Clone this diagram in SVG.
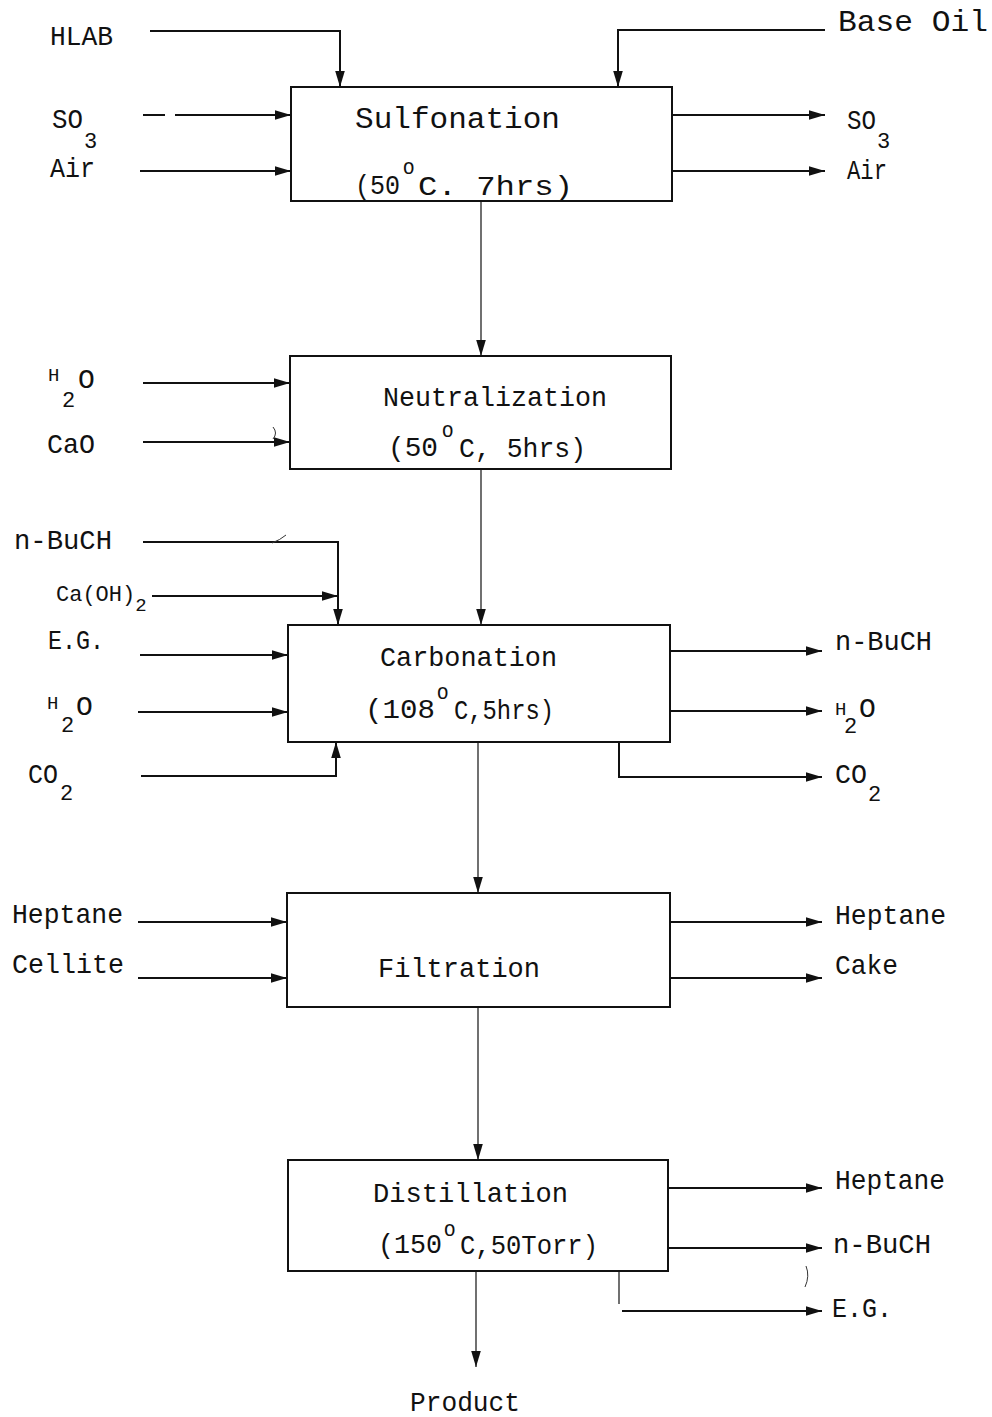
<svg xmlns="http://www.w3.org/2000/svg" width="992" height="1417" viewBox="0 0 992 1417">
  <defs>
    <marker id="arr" markerUnits="userSpaceOnUse" markerWidth="18" markerHeight="12" refX="16" refY="6" orient="auto">
      <path d="M0,1.2 L16,6 L0,10.8 z" fill="#111"/>
    </marker>
    <style>
      .box { fill: #fff; stroke: #111; stroke-width: 2; }
      .ln { fill: none; stroke: #111; stroke-width: 2; }
      .thin { fill: none; stroke: #111; stroke-width: 1.2; }
      text { font-family: "Liberation Mono", "DejaVu Sans Mono", monospace; fill: #111; }
      .t { font-size: 28px; }
      .big { font-size: 30px; }
      .mid { font-size: 22px; }
      .sup { font-size: 19px; }
      .sub { font-size: 22px; }
      .noise { fill: none; stroke: #333; stroke-width: 1; }
    </style>
  </defs>
  <rect width="992" height="1417" fill="#fff"/>

  <!-- process connectors -->
  <g id="connectors">
    <!-- sulfonation feeds and vents -->
    <path class="ln" d="M150,31 H340 V87" marker-end="url(#arr)"/>
    <path class="ln" d="M825,30 H618 V87" marker-end="url(#arr)"/>
    <path class="ln" d="M143,115 H165"/>
    <path class="ln" d="M175,115 H291" marker-end="url(#arr)"/>
    <path class="ln" d="M140,171 H291" marker-end="url(#arr)"/>
    <path class="ln" d="M672,115 H825" marker-end="url(#arr)"/>
    <path class="ln" d="M672,171 H825" marker-end="url(#arr)"/>
    <path class="thin" d="M481,201 V356" marker-end="url(#arr)"/>

    <!-- neutralization feeds -->
    <path class="ln" d="M143,383 H290" marker-end="url(#arr)"/>
    <path class="ln" d="M143,442 H290" marker-end="url(#arr)"/>
    <path class="thin" d="M481,469 V625" marker-end="url(#arr)"/>

    <!-- carbonation feeds and vents -->
    <path class="ln" d="M143,542 H338 V625" marker-end="url(#arr)"/>
    <path class="ln" d="M152,596 H338" marker-end="url(#arr)"/>
    <path class="ln" d="M140,655 H288" marker-end="url(#arr)"/>
    <path class="ln" d="M138,712 H288" marker-end="url(#arr)"/>
    <path class="ln" d="M141,776 H336 V742" marker-end="url(#arr)"/>
    <path class="ln" d="M670,651 H822" marker-end="url(#arr)"/>
    <path class="ln" d="M670,711 H822" marker-end="url(#arr)"/>
    <path class="ln" d="M619,742 V777 H822" marker-end="url(#arr)"/>
    <path class="thin" d="M478,742 V893" marker-end="url(#arr)"/>

    <!-- filtration feeds and outputs -->
    <path class="ln" d="M138,922 H287" marker-end="url(#arr)"/>
    <path class="ln" d="M138,978 H287" marker-end="url(#arr)"/>
    <path class="ln" d="M670,922 H822" marker-end="url(#arr)"/>
    <path class="ln" d="M670,978 H822" marker-end="url(#arr)"/>
    <path class="thin" d="M478,1007 V1160" marker-end="url(#arr)"/>

    <!-- distillation outputs -->
    <path class="ln" d="M668,1188 H822" marker-end="url(#arr)"/>
    <path class="ln" d="M668,1248 H822" marker-end="url(#arr)"/>
    <path class="thin" d="M619,1271 V1304"/>
    <path class="ln" d="M622,1311 H822" marker-end="url(#arr)"/>
    <path class="thin" d="M476,1271 V1367" marker-end="url(#arr)"/>
  </g>

  <!-- unit operations -->
  <g id="sulfonation">
    <rect class="box" x="291" y="87" width="381" height="114"/>
    <text class="big" x="355" y="128" textLength="205" lengthAdjust="spacingAndGlyphs">Sulfonation</text>
    <text class="t" x="355" y="194" textLength="45" lengthAdjust="spacingAndGlyphs">(50</text>
    <text class="sup" x="403" y="174">O</text>
    <text class="t" x="418" y="195" textLength="155" lengthAdjust="spacingAndGlyphs">C. 7hrs)</text>
  </g>

  <g id="neutralization">
    <rect class="box" x="290" y="356" width="381" height="113"/>
    <text class="t" x="383" y="406" textLength="224" lengthAdjust="spacingAndGlyphs">Neutralization</text>
    <text class="t" x="388" y="456" textLength="50" lengthAdjust="spacingAndGlyphs">(50</text>
    <text class="sup" x="442" y="437">O</text>
    <text class="t" x="459" y="457" textLength="127" lengthAdjust="spacingAndGlyphs">C, 5hrs)</text>
  </g>

  <g id="carbonation">
    <rect class="box" x="288" y="625" width="382" height="117"/>
    <text class="t" x="380" y="666" textLength="177" lengthAdjust="spacingAndGlyphs">Carbonation</text>
    <text class="t" x="365" y="718" textLength="70" lengthAdjust="spacingAndGlyphs">(108</text>
    <text class="sup" x="437" y="699">O</text>
    <text class="t" x="454" y="719" textLength="100" lengthAdjust="spacingAndGlyphs">C,5hrs)</text>
  </g>

  <g id="filtration">
    <rect class="box" x="287" y="893" width="383" height="114"/>
    <text class="t" x="378" y="977" textLength="162" lengthAdjust="spacingAndGlyphs">Filtration</text>
  </g>

  <g id="distillation">
    <rect class="box" x="288" y="1160" width="380" height="111"/>
    <text class="t" x="373" y="1202" textLength="195" lengthAdjust="spacingAndGlyphs">Distillation</text>
    <text class="t" x="378" y="1253" textLength="64" lengthAdjust="spacingAndGlyphs">(150</text>
    <text class="sup" x="444" y="1236">O</text>
    <text class="t" x="460" y="1254" textLength="138" lengthAdjust="spacingAndGlyphs">C,50Torr)</text>
  </g>

  <g id="product">
    <text class="t" x="410" y="1411" textLength="110" lengthAdjust="spacingAndGlyphs">Product</text>
  </g>

  <!-- stream labels -->
  <g id="streams">
    <text class="t" x="50" y="45" textLength="63" lengthAdjust="spacingAndGlyphs">HLAB</text>
    <text class="big" x="838" y="31" textLength="150" lengthAdjust="spacingAndGlyphs">Base Oil</text>

    <text class="t" x="52" y="128" textLength="31" lengthAdjust="spacingAndGlyphs">SO</text>
    <text class="sub" x="84" y="148">3</text>
    <text class="t" x="50" y="177" textLength="45" lengthAdjust="spacingAndGlyphs">Air</text>
    <text class="t" x="847" y="129" textLength="29" lengthAdjust="spacingAndGlyphs">SO</text>
    <text class="sub" x="877" y="148">3</text>
    <text class="t" x="847" y="179" textLength="40" lengthAdjust="spacingAndGlyphs">Air</text>

    <text class="sup" x="48" y="381">H</text>
    <text class="sub" x="62" y="407">2</text>
    <text class="t" x="78" y="388">O</text>
    <text class="t" x="47" y="453" textLength="48" lengthAdjust="spacingAndGlyphs">CaO</text>

    <text class="t" x="14" y="549" textLength="98" lengthAdjust="spacingAndGlyphs">n-BuCH</text>
    <text class="mid" x="56" y="601">Ca(OH)<tspan class="sup" dy="10">2</tspan></text>
    <text class="t" x="48" y="649" textLength="56" lengthAdjust="spacingAndGlyphs">E.G.</text>
    <text class="sup" x="47" y="709">H</text>
    <text class="sub" x="61" y="732">2</text>
    <text class="t" x="76" y="715">O</text>
    <text class="t" x="28" y="783" textLength="30" lengthAdjust="spacingAndGlyphs">CO</text>
    <text class="sub" x="60" y="800">2</text>

    <text class="t" x="835" y="650" textLength="97" lengthAdjust="spacingAndGlyphs">n-BuCH</text>
    <text class="sup" x="835" y="715">H</text>
    <text class="sub" x="844" y="733">2</text>
    <text class="t" x="859" y="717">O</text>
    <text class="t" x="835" y="783" textLength="32" lengthAdjust="spacingAndGlyphs">CO</text>
    <text class="sub" x="868" y="801">2</text>

    <text class="t" x="12" y="923" textLength="111" lengthAdjust="spacingAndGlyphs">Heptane</text>
    <text class="t" x="12" y="973" textLength="112" lengthAdjust="spacingAndGlyphs">Cellite</text>
    <text class="t" x="835" y="924" textLength="111" lengthAdjust="spacingAndGlyphs">Heptane</text>
    <text class="t" x="835" y="974" textLength="63" lengthAdjust="spacingAndGlyphs">Cake</text>

    <text class="t" x="835" y="1189" textLength="110" lengthAdjust="spacingAndGlyphs">Heptane</text>
    <text class="t" x="833" y="1253" textLength="98" lengthAdjust="spacingAndGlyphs">n-BuCH</text>
    <text class="t" x="832" y="1317" textLength="60" lengthAdjust="spacingAndGlyphs">E.G.</text>
  </g>

  <!-- small pen marks on the sheet -->
  <g id="marks">
    <path class="noise" d="M273,427 Q278,433 273,439"/>
    <path class="noise" d="M806,1266 Q810,1276 805,1287"/>
    <path class="noise" d="M272,543 Q280,540 286,535"/>
  </g>
</svg>
